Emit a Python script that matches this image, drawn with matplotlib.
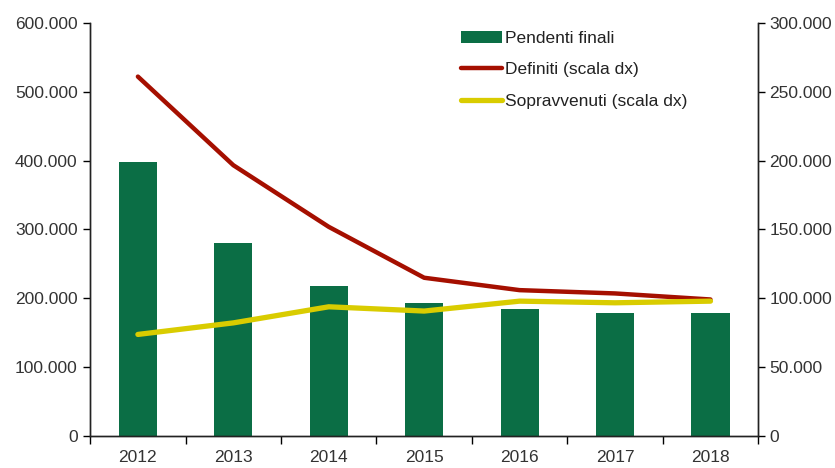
import matplotlib.pyplot as plt
from matplotlib.ticker import FuncFormatter, FixedLocator
import numpy as np

plt.rcParams['font.family'] = ['Liberation Sans Narrow', 'Liberation Sans', 'DejaVu Sans']

anni = ["2012", "2013", "2014", "2015", "2016", "2017", "2018"]
pendenti_finali = [397600, 280400, 218000, 193000, 184500, 177800, 177800]
definiti = [261000, 196600, 151800, 114800, 105800, 103400, 99000]
sopravvenuti = [73600, 82000, 93700, 90600, 97800, 96600, 97800]

verde = "#0b6e45"
rosso = "#a50f00"
giallo = "#d9cc00"
testo = "#333333"

def fmt(v, pos):
    return f"{int(round(v)):,}".replace(",", ".")

fig = plt.figure(figsize=(8.35, 4.68), dpi=100)
ax = fig.add_axes([0.108, 0.069, 0.800, 0.882])
ax2 = ax.twinx()

x = np.arange(len(anni))
barre = ax.bar(x, pendenti_finali, width=0.4, color=verde, label="Pendenti finali", zorder=1)
l1, = ax2.plot(x, definiti, color=rosso, lw=3.2, solid_capstyle='round', label="Definiti (scala dx)")
l2, = ax2.plot(x, sopravvenuti, color=giallo, lw=3.8, solid_capstyle='round', label="Sopravvenuti (scala dx)")

ax.set_xlim(-0.5, len(anni) - 0.5)
ax.set_ylim(0, 600000)
ax2.set_ylim(0, 300000)
ax.set_yticks(np.arange(0, 600001, 100000))
ax2.set_yticks(np.arange(0, 300001, 50000))
ax.yaxis.set_major_formatter(FuncFormatter(fmt))
ax2.yaxis.set_major_formatter(FuncFormatter(fmt))

ax.set_xticks(x)
ax.set_xticklabels(anni)
ax.xaxis.set_minor_locator(FixedLocator(np.arange(-0.5, len(anni), 1.0)))
ax.tick_params(axis='x', which='major', length=0, pad=10, labelsize=12.5, labelcolor=testo)
ax.tick_params(axis='x', which='minor', length=6, direction='out', width=1)
ax.tick_params(axis='y', length=5, width=1, pad=4, labelsize=12.5, labelcolor=testo)
ax2.tick_params(axis='y', length=5, width=1, pad=3, labelsize=12.5, labelcolor=testo)

for a in (ax, ax2):
    a.spines['top'].set_visible(False)
    for s in ('left', 'right', 'bottom'):
        a.spines[s].set_color('#222222')
        a.spines[s].set_linewidth(1)

fig.legend(handles=[barre, l1, l2], loc='upper left', bbox_to_anchor=(0.533, 0.968),
           frameon=False, fontsize=12.5, handlelength=2.4, handletextpad=0.15,
           labelspacing=0.95, labelcolor='#222222')

fig.savefig("out.png", dpi=100)
